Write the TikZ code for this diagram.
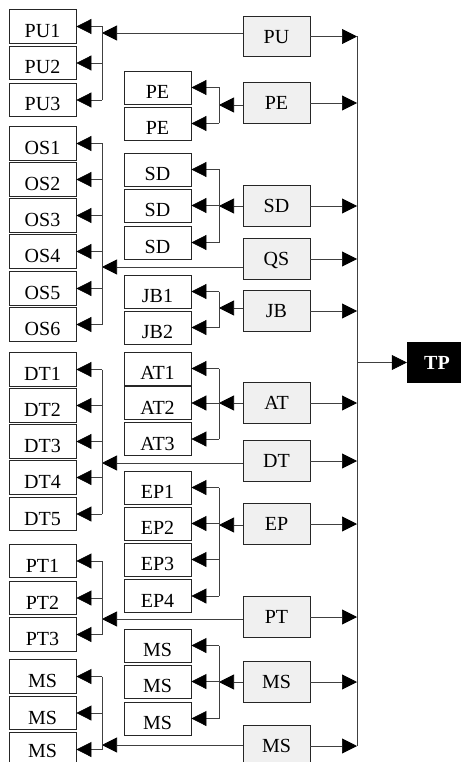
\documentclass[tikz,border=0pt]{standalone}
\usepackage{fontspec}
\setmainfont{Liberation Serif}
\usetikzlibrary{arrows.meta}
\begin{document}
\begin{tikzpicture}[x=1pt,y=-1pt,
  font=\fontsize{20}{24}\selectfont,
  lbox/.style={draw=black!85, line width=0.8pt, fill=white, minimum width=67pt, minimum height=33.5pt, inner sep=0pt, text height=22pt, text depth=0pt},
  mbox/.style={lbox, minimum height=33pt},
  rbox/.style={draw=black!85, line width=0.9pt, fill=black!6, minimum width=67pt, minimum height=40.5pt, inner sep=0pt, text height=13.2pt, text depth=0pt},
  tpbox/.style={fill=black, text=white, font=\fontsize{20}{24}\selectfont\bfseries, minimum width=60pt, minimum height=41pt, inner sep=0pt, text height=13.2pt, text depth=0pt},
  conn/.style={draw=black!75, line width=0.7pt},
  arr/.style={conn, -{Triangle[length=15pt,width=15pt,color=black]}}]
\useasboundingbox (0,0) rectangle (460,762);
% left column
\foreach \n/\t/\y in {pu1/PU1/26.5, pu2/PU2/63, pu3/PU3/100,
  os1/OS1/143.5, os2/OS2/179.5, os3/OS3/215.5, os4/OS4/251.5, os5/OS5/288.5, os6/OS6/324.5,
  dt1/DT1/369.5, dt2/DT2/405.5, dt3/DT3/441.5, dt4/DT4/477.5, dt5/DT5/514,
  pt1/PT1/561, pt2/PT2/598, pt3/PT3/634.5,
  lms1/MS/676.5, lms2/MS/713}
  \node[lbox] (\n) at (42.5,\y) {\t};
\node[lbox, text height=16pt] (lms3) at (42.5,749.5) {MS};
% middle column
\foreach \n/\t/\y in {pe1/PE/87.5, pe2/PE/123.5,
  sd1/SD/169.5, sd2/SD/205.5, sd3/SD/242.5,
  jb1/JB1/291.5, jb2/JB2/327.5,
  at1/AT1/368.5, at2/AT2/403, at3/AT3/439,
  ep1/EP1/487.5, ep2/EP2/523.5, ep3/EP3/559.5, ep4/EP4/596,
  mms1/MS/645.5, mms2/MS/681.5, mms3/MS/718.5}
  \node[mbox] (\n) at (157.5,\y) {\t};
% right column
\foreach \n/\t/\y in {PU/PU/36.5, PE/PE/103, SD/SD/206, QS/QS/259, JB/JB/311,
  AT/AT/403, DT/DT/461, EP/EP/524, PT/PT/617, MSa/MS/682, MSb/MS/746}
  \node[rbox] (\n) at (276.5,\y) {\t};
\node[tpbox] (TP) at (437,362.5) {TP};
% junctions
\coordinate (jPU) at (102,33);
\coordinate (jPE) at (219,105);
\coordinate (jSD) at (219,206);
\coordinate (jQS) at (102,267);
\coordinate (jJB) at (219,308);
\coordinate (jAT) at (219,403);
\coordinate (jDT) at (102,463);
\coordinate (jEP) at (219,525);
\coordinate (jPT) at (102,619);
\coordinate (jMSa) at (219,682);
\coordinate (jMSb) at (102,745);
\coordinate (bus) at (357,36.5);
% group connectors
\foreach \g/\first/\last/\list in {PU/pu1/pu3/{pu1,pu2,pu3},
  PE/pe1/pe2/{pe1,pe2},
  SD/sd1/sd3/{sd1,sd2,sd3},
  QS/os1/os6/{os1,os2,os3,os4,os5,os6},
  JB/jb1/jb2/{jb1,jb2},
  AT/at1/at3/{at1,at2,at3},
  DT/dt1/dt5/{dt1,dt2,dt3,dt4,dt5},
  EP/ep1/ep4/{ep1,ep2,ep3,ep4},
  PT/pt1/pt3/{pt1,pt2,pt3},
  MSa/mms1/mms3/{mms1,mms2,mms3},
  MSb/lms1/lms3/{lms1,lms2,lms3}}{
  \draw[arr] (\g.west |- j\g) -- (j\g);
  \draw[conn] (j\g |- \first.east) -- (j\g |- \last.east);
  \foreach \b in \list \draw[arr] (j\g |- \b.east) -- (\b.east);
}
% bus
\draw[conn] (bus) -- (bus |- MSb.east);
\foreach \r in {PU,PE,SD,QS,JB,AT,DT,EP,PT,MSa,MSb}
  \draw[arr] (\r.east) -- (bus |- \r.east);
\draw[arr] (bus |- TP.west) -- (TP.west);
\end{tikzpicture}
\end{document}
